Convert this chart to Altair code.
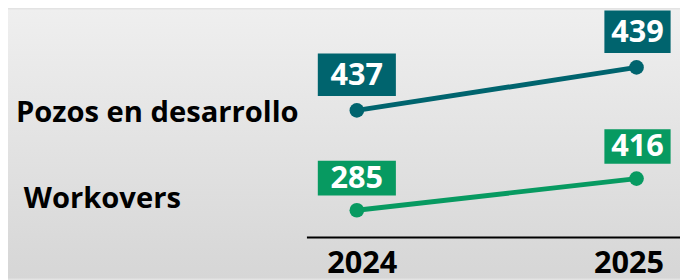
import altair as alt
import pandas as pd

years = [2024, 2025]
series = ["Pozos en desarrollo", "Workovers"]
pozos = [437, 439]
workovers = [285, 416]
colors = ["#00646e", "#079a61"]

rows = []
for s, vals in zip(series, [pozos, workovers]):
    for yr, v in zip(years, vals):
        rows.append({"serie": s, "year": yr, "value": v})
df = pd.DataFrame(rows)

VIEW_W, VIEW_H = 378, 230
PAD_L, PAD_B = 302, 42
FONT = "Open Sans"

x_scale = alt.Scale(domain=[2023.8198, 2025.1555], nice=False, zero=False)
x_axis = alt.Axis(values=years, format="d", title=None, grid=False, ticks=False,
                  domainColor="black", domainWidth=2, labelFont=FONT,
                  labelFontWeight="bold", labelFontSize=31, labelColor="black",
                  labelPadding=12, labelFlush=False, zindex=2,
                  labelOffset={"condition": {"test": "datum.value == 2024", "value": 5},
                               "value": -8})
X = alt.X("year:Q", scale=x_scale, axis=x_axis)


def series_layer(name, color, domain, box_h, box_dy, label_dx, label_dy):
    base = alt.Chart(df).transform_filter(alt.datum.serie == name)
    Y = alt.Y("value:Q", scale=alt.Scale(domain=domain, nice=False, zero=False), axis=None)
    layers = [
        base.mark_line(color=color, strokeWidth=5).encode(x=X, y=Y),
        base.mark_circle(color=color, size=220, opacity=1).encode(x=X, y=Y),
    ]
    for yr, w, xo in zip(years, [79, 67], [0, 1]):
        b = base.transform_filter(alt.datum.year == yr)
        layers.append(b.mark_rect(color=color, width=w, height=box_h, yOffset=box_dy,
                                  xOffset=xo).encode(x=X, y=Y))
        layers.append(b.mark_text(color="white", font=FONT, fontWeight="bold", fontSize=31,
                                  align="center", baseline="middle", dy=box_dy + 1, dx=xo)
                      .encode(x=X, y=Y, text="value:Q"))
    lab = base.transform_filter(alt.datum.year == years[0])
    layers.append(lab.mark_text(color="black", font=FONT, fontWeight="bold", fontSize=29.5,
                                align="left", baseline="middle", dy=label_dy)
                  .encode(x=alt.value(label_dx), y=Y, text="serie:N"))
    return alt.layer(*layers)


bg = alt.Chart(alt.Data(values=[{"a": 1}])).mark_rect(
    fill=alt.LinearGradient(gradient="linear",
                            stops=[alt.GradientStop(color="#efefef", offset=0),
                                   alt.GradientStop(color="#d6d6d6", offset=1)],
                            x1=0, x2=0, y1=0, y2=1)
).encode(x=alt.value(-PAD_L), x2=alt.value(VIEW_W), y=alt.value(0), y2=alt.value(VIEW_H + PAD_B))

p_layer = series_layer(series[0], colors[0], [431.115, 441.69], 43, -36, -294, 3)
w_layer = series_layer(series[1], colors[1], [174.47, 1116.05], 35, -32.5, -286, -11)

chart = alt.layer(bg, p_layer, w_layer).resolve_scale(y="independent").properties(
    width=VIEW_W, height=VIEW_H,
    padding={"left": PAD_L, "top": 0, "right": 0, "bottom": PAD_B},
    autosize=alt.AutoSizeParams(type="none"),
    background="#e3e3e3",
).configure_view(stroke=None)

chart.save("out.html", embed_options={"renderer": "svg", "actions": False})
